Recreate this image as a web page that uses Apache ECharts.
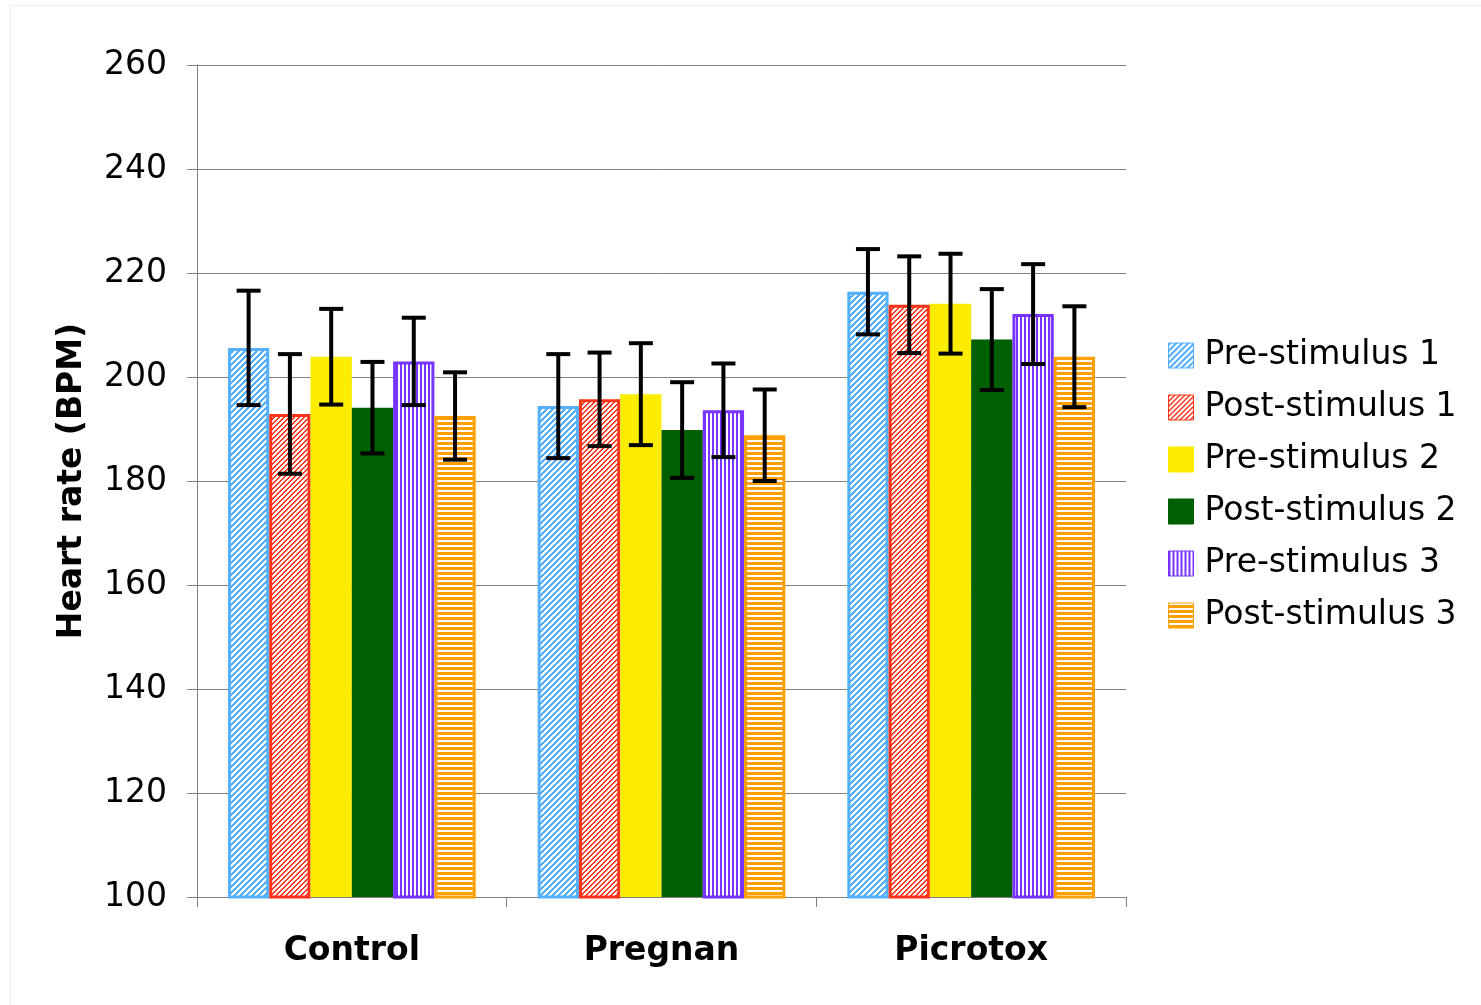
<!DOCTYPE html>
<html>
<head>
<meta charset="utf-8">
<script src="https://cdn.jsdelivr.net/npm/echarts@6/dist/echarts.min.js"></script>
<style>
  html, body { margin: 0; padding: 0; background: #ffffff; }
  #chart { width: 1481px; height: 1005px; }
</style>
</head>
<body>
<div id="chart"></div>
<script>
// Heart rate by treatment group, mean ± error for each stimulus phase
const categories = ['Control', 'Pregnan', 'Picrotox'];
const seriesNames = ['Pre-stimulus 1', 'Post-stimulus 1', 'Pre-stimulus 2',
                     'Post-stimulus 2', 'Pre-stimulus 3', 'Post-stimulus 3'];

const pre1  = [205.6, 194.4, 216.4];
const post1 = [192.9, 195.7, 213.9];
const pre2  = [203.9, 196.7, 214.1];
const post2 = [194.1, 189.8, 207.2];
const pre3  = [203.0, 193.6, 212.1];
const post3 = [192.5, 188.8, 203.9];

const pre1Err  = [11.0, 10.0, 8.2];
const post1Err = [11.5, 9.0, 9.3];
const pre2Err  = [9.2, 9.8, 9.6];
const post2Err = [8.8, 9.2, 9.7];
const pre3Err  = [8.4, 9.0, 9.6];
const post3Err = [8.4, 8.8, 9.7];

const yTicks = [100, 120, 140, 160, 180, 200, 220, 240, 260];

const values = [pre1, post1, pre2, post2, pre3, post3];
const errors = [pre1Err, post1Err, pre2Err, post2Err, pre3Err, post3Err];

const FONT = 'DejaVu Sans, Verdana, sans-serif';

// Small repeating tiles used as hatch fills
function hexToRgb(hex) {
  const v = parseInt(hex.slice(1), 16);
  return [(v >> 16) & 255, (v >> 8) & 255, v & 255];
}
function makeTile(size, ink, test) {
  const c = document.createElement('canvas');
  c.width = size; c.height = size;
  const ctx = c.getContext('2d');
  const img = ctx.createImageData(size, size);
  const rgb = hexToRgb(ink);
  for (let y = 0; y < size; y++) {
    for (let x = 0; x < size; x++) {
      const k = (y * size + x) * 4;
      const on = test(x, y);
      img.data[k] = on ? rgb[0] : 255;
      img.data[k + 1] = on ? rgb[1] : 255;
      img.data[k + 2] = on ? rgb[2] : 255;
      img.data[k + 3] = 255;
    }
  }
  ctx.putImageData(img, 0, 0);
  return { image: c, repeat: 'repeat' };
}

const BLUE = '#55b0ff', RED = '#ff3319', YELLOW = '#fbec00',
      GREEN = '#005f00', PURPLE = '#7733ff', ORANGE = '#ffa000';

const fills = [
  makeTile(6, BLUE, (x, y) => ((x + y) % 6) < 3),
  makeTile(5, RED, (x, y) => ((x + y) % 5) < 2),
  YELLOW,
  GREEN,
  makeTile(4, PURPLE, (x, y) => (x % 4) < 2),
  makeTile(5, ORANGE, (x, y) => (y % 5) >= 2)
];
const borders = [BLUE, RED, YELLOW, GREEN, PURPLE, ORANGE];
const borderWidths = [3, 3, 0, 0, 3, 3];

const CAT_GAP = 0.2;   // fraction of category width left empty
const NBARS = seriesNames.length;

const barSeries = seriesNames.map((name, i) => ({
  name: name,
  type: 'bar',
  barCategoryGap: '20%',
  barGap: '0%',
  data: values[i],
  itemStyle: {
    color: fills[i],
    borderColor: borders[i],
    borderWidth: borderWidths[i]
  },
  emphasis: { disabled: true },
  z: 2
}));

// Error bars: vertical whisker with caps, centred on each bar
const errSeries = seriesNames.map((name, i) => ({
  name: name + ' error',
  type: 'custom',
  z: 5,
  silent: true,
  encode: { x: 0, y: 1 },
  data: categories.map((c, j) => [j, values[i][j], errors[i][j]]),
  renderItem: function (params, api) {
    const idx = api.value(0), v = api.value(1), e = api.value(2);
    const center = api.coord([idx, v]);
    const catW = api.size([1, 0])[0];
    const barW = catW * (1 - CAT_GAP) / NBARS;
    const x = center[0] - catW * (1 - CAT_GAP) / 2 + (i + 0.5) * barW;
    const yTop = api.coord([idx, v + e])[1];
    const yBot = api.coord([idx, v - e])[1];
    const half = 12;
    const st = { stroke: '#000000', lineWidth: 4 };
    return {
      type: 'group',
      children: [
        { type: 'line', shape: { x1: x, y1: yTop, x2: x, y2: yBot }, style: st },
        { type: 'line', shape: { x1: x - half, y1: yTop, x2: x + half, y2: yTop }, style: st },
        { type: 'line', shape: { x1: x - half, y1: yBot, x2: x + half, y2: yBot }, style: st }
      ]
    };
  }
}));

const chart = echarts.init(document.getElementById('chart'), null, { renderer: 'canvas' });
chart.setOption({
  backgroundColor: '#ffffff',
  animation: false,
  textStyle: { fontFamily: FONT },
  graphic: [{
    type: 'rect',
    shape: { x: 10.5, y: 5.5, width: 1480, height: 1010 },
    style: { fill: 'none', stroke: '#f0f0f0', lineWidth: 1 },
    silent: true
  }],
  grid: { left: 197, right: 355, top: 65, bottom: 108, containLabel: false },
  legend: {
    data: seriesNames,
    orient: 'vertical',
    left: 1168,
    top: 339,
    padding: 0,
    icon: 'rect',
    itemWidth: 25,
    itemHeight: 25,
    itemGap: 19,
    selectedMode: false,
    itemStyle: { borderWidth: 1 },
    textStyle: { fontFamily: FONT, fontSize: 33, color: '#000000', lineHeight: 33, padding: [0, 0, 0, 6] }
  },
  xAxis: {
    type: 'category',
    data: categories,
    axisLine: { lineStyle: { color: '#808080', width: 1 } },
    axisTick: { show: true, length: 10, lineStyle: { color: '#808080' } },
    axisLabel: { fontFamily: FONT, fontSize: 33, fontWeight: 'bold', color: '#000000', margin: 38 },
    splitLine: { show: false }
  },
  yAxis: {
    type: 'value',
    min: yTicks[0],
    max: yTicks[yTicks.length - 1],
    interval: yTicks[1] - yTicks[0],
    name: 'Heart rate (BPM)',
    nameLocation: 'middle',
    nameGap: 108,
    nameRotate: 90,
    nameTextStyle: { fontFamily: FONT, fontSize: 33, fontWeight: 'bold', color: '#000000' },
    axisLine: { show: true, lineStyle: { color: '#808080', width: 1 } },
    axisTick: { show: true, length: 10, lineStyle: { color: '#808080' } },
    axisLabel: { fontFamily: FONT, fontSize: 33, color: '#000000', margin: 30, padding: [7, 0, 0, 0] },
    splitLine: { show: true, lineStyle: { color: '#808080', width: 1 } }
  },
  series: barSeries.concat(errSeries)
});
</script>
</body>
</html>
